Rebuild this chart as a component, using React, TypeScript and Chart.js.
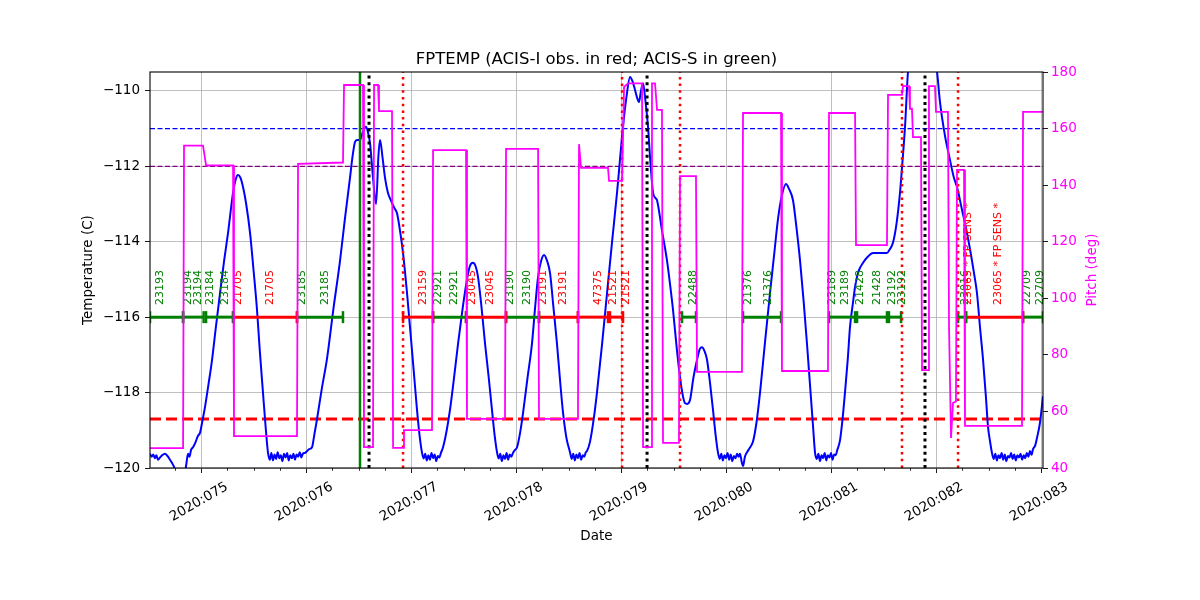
import { useEffect, useRef } from "react";
import { Chart, registerables } from "chart.js";

Chart.register(...registerables);

// ---------------- data ----------------
const X_MIN = 74.514;
const X_MAX = 83.019;
const xTickValues = [75, 76, 77, 78, 79, 80, 81, 82, 83];
const xTickLabels = ["2020:075", "2020:076", "2020:077", "2020:078", "2020:079", "2020:080", "2020:081", "2020:082", "2020:083"];
const xMinorStep = 0.25;
const tempTicks = [-120, -118, -116, -114, -112, -110];
const pitchTicks = [40, 60, 80, 100, 120, 140, 160, 180];
const TEMP_MIN = -120;
const TEMP_MAX = -109.5;
const PITCH_MIN = 40;
const PITCH_MAX = 180;

const tempDays = [
  74.514, 74.53, 74.545, 74.56, 74.575, 74.59, 74.61, 74.63, 74.657, 74.68, 74.7, 74.72, 74.74, 74.76, 74.8, 74.84, 74.86,
  74.876, 74.89, 74.905, 74.924, 74.95, 74.97, 74.99, 75.01, 75.038, 75.07, 75.105, 75.14, 75.181, 75.22, 75.257, 75.305,
  75.33, 75.352, 75.375, 75.4, 75.43, 75.467, 75.5, 75.533, 75.56, 75.59, 75.615, 75.638,
  75.655, 75.67, 75.685, 75.7, 75.715, 75.73, 75.745, 75.76, 75.775, 75.79, 75.805, 75.82, 75.835, 75.85, 75.865, 75.88,
  75.895, 75.91, 75.925, 75.94, 75.955, 75.97, 75.99, 76.01, 76.03, 76.057, 76.08, 76.105, 76.15, 76.2, 76.26, 76.324,
  76.37, 76.419, 76.445, 76.467, 76.49, 76.514, 76.54, 76.571, 76.59, 76.61, 76.638, 76.667, 76.69, 76.705, 76.73, 76.752,
  76.78, 76.8, 76.84, 76.867, 76.9, 76.924, 76.96, 76.99, 77.025, 77.057, 77.08, 77.105,
  77.12, 77.135, 77.15, 77.165, 77.18, 77.195, 77.21, 77.225, 77.24, 77.255, 77.27, 77.285, 77.305, 77.34, 77.371, 77.41,
  77.448, 77.49, 77.533, 77.56, 77.59, 77.615, 77.638, 77.67, 77.705, 77.74, 77.771, 77.795, 77.819,
  77.835, 77.85, 77.865, 77.88, 77.895, 77.91, 77.925, 77.94, 77.955, 77.971, 77.99, 78.01, 78.04, 78.067, 78.11, 78.152,
  78.18, 78.21, 78.24, 78.267, 78.295, 78.324, 78.355, 78.39, 78.42, 78.448, 78.48, 78.514,
  78.53, 78.545, 78.56, 78.575, 78.59, 78.605, 78.62, 78.635, 78.65, 78.665, 78.676, 78.705, 78.74, 78.771, 78.82, 78.867,
  78.915, 78.962, 79.019, 79.05, 79.086, 79.11, 79.133, 79.155, 79.171, 79.19, 79.21, 79.23, 79.257, 79.28, 79.305, 79.33,
  79.343, 79.39, 79.438, 79.47, 79.495, 79.53, 79.562, 79.59, 79.61, 79.63, 79.657, 79.69, 79.724, 79.75, 79.771, 79.795,
  79.819, 79.85, 79.876, 79.9, 79.924,
  79.94, 79.955, 79.97, 79.985, 80.0, 80.015, 80.03, 80.045, 80.06, 80.075, 80.09, 80.105, 80.12, 80.133, 80.15, 80.162,
  80.18, 80.2, 80.23, 80.257, 80.29, 80.324, 80.37, 80.419, 80.46, 80.495, 80.53, 80.571, 80.6, 80.638, 80.67, 80.705,
  80.74, 80.771, 80.8, 80.829, 80.848,
  80.865, 80.88, 80.895, 80.91, 80.925, 80.94, 80.955, 80.97, 80.985, 81.0, 81.015, 81.03, 81.045, 81.057, 81.086, 81.11,
  81.133, 81.16, 81.181, 81.21, 81.229, 81.26, 81.305, 81.35, 81.4, 81.47, 81.533, 81.56, 81.59, 81.625, 81.657, 81.68,
  81.705, 81.733, 81.78, 81.867, 81.96, 82.01, 82.038, 82.086, 82.133, 82.17, 82.2, 82.248, 82.29, 82.324, 82.36, 82.39,
  82.42, 82.448, 82.475, 82.495, 82.515, 82.533,
  82.55, 82.565, 82.58, 82.595, 82.61, 82.625, 82.64, 82.655, 82.67, 82.685, 82.7, 82.715, 82.73, 82.745, 82.76, 82.775,
  82.79, 82.805, 82.82, 82.835, 82.85, 82.865, 82.88, 82.895, 82.91, 82.924, 82.945, 82.962, 82.99, 83.019,
];
const tempValues = [
  -119.62, -119.7, -119.64, -119.74, -119.66, -119.78, -119.72, -119.66, -119.62, -119.68, -119.76, -119.85, -119.95, -120.1, -120.25, -120.2, -119.9,
  -119.62, -119.7, -119.52, -119.45, -119.3, -119.15, -119.07, -118.8, -118.38, -117.8, -117.13, -116.3, -115.36, -114.5, -113.77, -112.7,
  -112.35, -112.23, -112.3, -112.55, -113.0, -113.77, -114.75, -115.8, -116.9, -118.0, -118.9, -119.6,
  -119.78, -119.6, -119.8, -119.64, -119.76, -119.58, -119.74, -119.66, -119.82, -119.62, -119.72, -119.6, -119.8, -119.66, -119.74, -119.62,
  -119.78, -119.64, -119.7, -119.58, -119.72, -119.62, -119.6, -119.55, -119.5, -119.45, -119.1, -118.7, -117.9, -117.1, -115.8, -114.5,
  -113.4, -112.3, -111.7, -111.35, -111.3, -111.3, -111.1, -110.95, -111.1, -111.4, -112.3, -113.0, -111.7, -111.3, -111.8, -112.3,
  -112.7, -112.85, -113.1, -113.25, -113.8, -114.3, -115.3, -116.26, -117.4, -118.46, -119.1, -119.6,
  -119.75, -119.62, -119.8, -119.66, -119.78, -119.6, -119.74, -119.64, -119.82, -119.68, -119.72, -119.6, -119.45, -119.0, -118.46, -117.6,
  -116.7, -115.8, -115.0, -114.65, -114.56, -114.65, -114.93, -115.7, -116.7, -117.6, -118.46, -119.1, -119.58,
  -119.75, -119.62, -119.82, -119.66, -119.76, -119.6, -119.78, -119.64, -119.7, -119.6, -119.52, -119.45, -119.05, -118.54, -117.6, -116.7,
  -115.8, -114.93, -114.5, -114.35, -114.5, -114.83, -115.7, -116.7, -117.7, -118.54, -119.2, -119.58,
  -119.76, -119.62, -119.8, -119.64, -119.74, -119.6, -119.78, -119.66, -119.7, -119.58, -119.55, -119.3, -118.7, -118.0, -116.7, -115.36,
  -114.0, -112.7, -110.95, -110.2, -109.63, -109.75, -109.97, -110.2, -110.3, -110.0, -109.8, -110.2, -110.95, -111.9, -112.7, -112.85,
  -112.9, -113.7, -114.5, -115.2, -115.8, -116.8, -117.6, -118.1, -118.28, -118.3, -118.2, -117.6, -117.13, -116.85, -116.8, -116.9,
  -117.13, -117.8, -118.46, -119.1, -119.6,
  -119.76, -119.62, -119.8, -119.66, -119.74, -119.6, -119.78, -119.64, -119.82, -119.68, -119.74, -119.62, -119.7, -119.62, -119.85, -119.95,
  -119.7, -119.58, -119.45, -119.3, -118.8, -118.0, -116.7, -115.36, -114.3, -113.4, -112.8, -112.47, -112.6, -112.9, -113.6, -114.5,
  -115.6, -116.7, -117.8, -118.9, -119.6,
  -119.76, -119.62, -119.82, -119.66, -119.74, -119.6, -119.8, -119.66, -119.72, -119.6, -119.78, -119.64, -119.66, -119.55, -119.26, -118.7,
  -118.0, -117.1, -116.26, -115.6, -115.2, -114.8, -114.56, -114.4, -114.3, -114.3, -114.3, -114.2, -114.03, -113.5, -112.7, -111.9,
  -110.95, -109.5, -108.7, -108.5, -108.7, -109.5, -110.3, -111.2, -111.83, -112.3, -112.55, -113.16, -113.7, -114.2, -114.8, -115.36,
  -116.3, -117.13, -118.1, -118.9, -119.3, -119.6,
  -119.76, -119.62, -119.8, -119.66, -119.74, -119.6, -119.78, -119.64, -119.82, -119.68, -119.72, -119.6, -119.76, -119.64, -119.8, -119.66,
  -119.72, -119.62, -119.78, -119.66, -119.74, -119.6, -119.7, -119.55, -119.65, -119.5, -119.4, -119.2, -118.8, -118.1,
];

const pitchDays = [
  74.514, 74.829, 74.838, 75.019, 75.048, 75.305, 75.314, 75.914, 75.924, 76.352, 76.362, 76.543, 76.552, 76.638, 76.648,
  76.686, 76.695, 76.819, 76.829, 76.924, 76.933, 77.2, 77.21, 77.524, 77.533, 77.895, 77.905, 78.21, 78.219, 78.59,
  78.6, 78.619, 78.876, 78.886, 79.01, 79.029, 79.067, 79.2, 79.21, 79.286, 79.295, 79.324, 79.343, 79.39, 79.4,
  79.552, 79.562, 79.714, 79.724, 80.152, 80.162, 80.524, 80.533, 80.971, 80.981, 81.229, 81.238, 81.533, 81.543, 81.676,
  81.686, 81.743, 81.752, 81.771, 81.781, 81.857, 81.867, 81.924, 81.933, 81.99, 82.0, 82.114, 82.124, 82.143, 82.162,
  82.19, 82.2, 82.267, 82.276, 82.819, 82.829, 83.019,
];
const pitchValues = [
  47, 47, 154, 154, 147, 147, 51.3, 51.3, 147.5, 148, 175.4, 175.4, 47.4, 47.4, 175.4,
  175.4, 166.2, 166.2, 47.1, 47.1, 53.4, 53.4, 152.4, 152.4, 57.4, 57.4, 152.8, 152.8, 57.4, 57.4,
  154.5, 146.1, 146.1, 141.5, 141.5, 174.7, 176, 176, 47.4, 47.4, 176, 176, 166.6, 166.6, 48.9,
  48.9, 143.2, 143.2, 74, 74, 165.5, 165.5, 74.3, 74.3, 165.5, 165.5, 118.8, 118.8, 171.9, 171.9,
  175, 175, 167, 167, 157, 157, 74.6, 74.6, 175, 175, 165.9, 165.9, 90, 50.6, 63,
  63.5, 145.4, 145.4, 54.9, 54.9, 165.9, 165.9,
];

const limitYellow = -111.0;
const limitPlanning = -112.0;
const limitAcisI = -118.7;

const obsLevel = -116;
const obsStarts = [74.514, 74.829, 75.048, 75.305, 75.914, 76.924, 77.21, 77.524, 77.905, 78.219, 78.59, 78.895, 79.581, 80.162, 80.981, 81.248, 81.552, 82.21, 82.286, 82.829];
const obsEnds = [74.829, 75.025, 75.305, 75.914, 76.352, 77.21, 77.524, 77.905, 78.219, 78.59, 78.876, 79.019, 79.714, 80.524, 81.229, 81.533, 81.667, 82.286, 82.829, 83.019];
const obsKinds = ["S", "S", "S", "I", "S", "I", "S", "I", "S", "I", "I", "I", "S", "S", "S", "S", "S", "S", "I", "S"];

const labelDays = [
  74.61, 74.876, 74.971, 75.086, 75.229, 75.352, 75.657, 75.962, 76.181, 77.114, 77.257, 77.41, 77.581, 77.752, 77.943,
  78.105, 78.257, 78.448, 78.781, 78.924, 79.048, 79.686, 80.21, 80.4, 81.01, 81.133, 81.276, 81.438, 81.581, 81.676,
  82.276, 82.305, 82.59, 82.867, 82.99,
];
const labelTexts = [
  "23193", "23194", "23194", "23184", "23184", "21705", "21705", "23185", "23185", "23159", "22921", "22921", "23045", "23045", "23190",
  "23190", "23191", "23191", "47375", "21521", "21521", "22488", "21376", "21376", "23189", "23189", "21428", "21428", "23192", "23192",
  "23016", "23065 * FP SENS *", "23065 * FP SENS *", "22709", "22709",
];
const labelKinds = [
  "S", "S", "S", "S", "S", "I", "I", "S", "S", "I", "S", "S", "I", "I", "S",
  "S", "I", "I", "I", "I", "I", "S", "S", "S", "S", "S", "S", "S", "S", "S",
  "S", "I", "I", "S", "S",
];
const labelBaseTemp = -115.68;

const greenLineDays = [76.514];
const blackLineDays = [76.6, 79.248, 81.895];
const redLineDays = [76.924, 79.01, 79.562, 81.676, 82.21];

// ---------------- styles ----------------
const FONT = "'DejaVu Sans', 'Liberation Sans', sans-serif";
const RED = "#ff0000";
const GREEN = "#008000";
const MAGENTA = "#ff00ff";
const BLUE = "#0000ff";
const kindColor = (k: string) => (k === "I" ? RED : GREEN);
const minus = (v: number) => (v < 0 ? "\u2212" + Math.abs(v) : String(v));

export default function App() {
  const ref = useRef<HTMLCanvasElement | null>(null);

  useEffect(() => {
    document.body.style.margin = "0";
    const canvas = ref.current;
    if (!canvas) return;

    const datasets: any[] = [];

    // pitch (top-most)
    datasets.push({
      label: "pitch",
      data: pitchDays.map((d, i) => ({ x: d, y: pitchValues[i] })),
      yAxisID: "y2",
      borderColor: MAGENTA,
      borderWidth: 1.8,
      pointRadius: 0,
      tension: 0,
      clip: 0,
      order: 0,
    });
    const PITCH_INDEX = 0;

    datasets.push({
      label: "temp",
      data: tempDays.map((d, i) => ({ x: d, y: tempValues[i] })),
      yAxisID: "y",
      borderColor: BLUE,
      borderWidth: 2,
      pointRadius: 0,
      cubicInterpolationMode: "monotone",
      clip: 0,
      order: 2,
    });

    const hline = (v: number, color: string, width: number, dash: number[], order: number) => ({
      data: [
        { x: X_MIN, y: v },
        { x: X_MAX, y: v },
      ],
      yAxisID: "y",
      borderColor: color,
      borderWidth: width,
      borderDash: dash,
      borderCapStyle: "butt",
      pointRadius: 0,
      clip: 0,
      order,
    });
    datasets.push(hline(limitYellow, BLUE, 1.2, [5, 2.5], 3));
    datasets.push(hline(limitPlanning, "#800080", 1.2, [5, 2.5], 3));
    datasets.push(hline(limitAcisI, RED, 3, [11, 5], 3));

    const vline = (d: number, color: string, width: number, dash: number[]) => ({
      data: [
        { x: d, y: TEMP_MIN },
        { x: d, y: TEMP_MAX },
      ],
      yAxisID: "y",
      borderColor: color,
      borderWidth: width,
      borderDash: dash,
      borderCapStyle: "butt",
      pointRadius: 0,
      clip: 0,
      order: 1,
    });
    greenLineDays.forEach((d) => datasets.push(vline(d, GREEN, 2.5, [])));
    blackLineDays.forEach((d) => datasets.push(vline(d, "#000000", 3, [3, 3.6])));
    redLineDays.forEach((d) => datasets.push(vline(d, RED, 2.5, [2.5, 4.2])));

    obsStarts.forEach((s, i) => {
      const c = kindColor(obsKinds[i]);
      datasets.push({
        data: [
          { x: s, y: obsLevel },
          { x: obsEnds[i], y: obsLevel },
        ],
        yAxisID: "y",
        borderColor: c,
        borderWidth: 3,
        pointStyle: "line",
        pointRotation: 90,
        pointRadius: 6,
        pointBorderWidth: 2.5,
        pointBorderColor: c,
        pointBackgroundColor: c,
        clip: 0,
        order: 1,
      });
    });

    const drawLabels = (chart: any) => {
      const ctx = chart.ctx;
      const xs = chart.scales.x;
      const ys = chart.scales.y;
      ctx.save();
      ctx.font = `11px ${FONT}`;
      ctx.textAlign = "left";
      ctx.textBaseline = "middle";
      labelDays.forEach((d, i) => {
        const px = xs.getPixelForValue(d);
        const py = ys.getPixelForValue(labelBaseTemp);
        ctx.save();
        ctx.translate(px, py);
        ctx.rotate(-Math.PI / 2);
        ctx.fillStyle = kindColor(labelKinds[i]);
        ctx.fillText(labelTexts[i], 0, 0);
        ctx.restore();
      });
      ctx.restore();
    };

    const decor = {
      id: "decor",
      beforeDatasetDraw(chart: any, args: any) {
        if (args.index === PITCH_INDEX) drawLabels(chart);
      },
      afterDraw(chart: any) {
        const ctx = chart.ctx;
        const a = chart.chartArea;
        const xs = chart.scales.x;
        ctx.save();
        // frame
        ctx.strokeStyle = "#000";
        ctx.lineWidth = 1.1;
        ctx.strokeRect(a.left, a.top, a.right - a.left, a.bottom - a.top);
        // minor ticks
        ctx.lineWidth = 0.8;
        ctx.beginPath();
        for (let v = Math.ceil(X_MIN / xMinorStep) * xMinorStep; v <= X_MAX; v += xMinorStep) {
          if (Math.abs(v - Math.round(v)) < 1e-6) continue;
          const px = Math.round(xs.getPixelForValue(v)) + 0.5;
          ctx.moveTo(px, a.bottom);
          ctx.lineTo(px, a.bottom + 2.8);
        }
        ctx.stroke();
        // x tick labels
        ctx.fillStyle = "#000";
        ctx.font = `13.5px ${FONT}`;
        ctx.textAlign = "center";
        ctx.textBaseline = "middle";
        xTickValues.forEach((v, i) => {
          const px = xs.getPixelForValue(v);
          ctx.save();
          ctx.translate(px - 2, a.bottom + 34);
          ctx.rotate((-30 * Math.PI) / 180);
          ctx.fillText(xTickLabels[i], 0, 0);
          ctx.restore();
        });
        // title
        ctx.font = `16.5px ${FONT}`;
        ctx.textBaseline = "alphabetic";
        ctx.fillText("FPTEMP (ACIS-I obs. in red; ACIS-S in green)", (a.left + a.right) / 2, a.top - 8);
        // axis titles
        ctx.font = `13.5px ${FONT}`;
        ctx.textBaseline = "middle";
        ctx.fillText("Date", (a.left + a.right) / 2, 536);
        ctx.save();
        ctx.translate(88, (a.top + a.bottom) / 2);
        ctx.rotate(-Math.PI / 2);
        ctx.fillText("Temperature (C)", 0, 0);
        ctx.restore();
        ctx.save();
        ctx.translate(1092, (a.top + a.bottom) / 2);
        ctx.rotate(-Math.PI / 2);
        ctx.fillStyle = MAGENTA;
        ctx.fillText("Pitch (deg)", 0, 0);
        ctx.restore();
        ctx.restore();
      },
    };

    const chart = new Chart(canvas, {
      type: "line",
      data: { datasets },
      options: {
        animation: false,
        responsive: false,
        maintainAspectRatio: false,
        layout: { padding: { top: 72, left: 0, right: 0, bottom: 0 } },
        plugins: { legend: { display: false }, title: { display: false }, tooltip: { enabled: false } },
        scales: {
          x: {
            type: "linear",
            min: X_MIN,
            max: X_MAX,
            afterBuildTicks: (s: any) => {
              s.ticks = xTickValues.map((v) => ({ value: v }));
            },
            afterFit: (s: any) => {
              s.height = 132;
            },
            ticks: { display: false },
            grid: { color: "#b0b0b0", lineWidth: 0.8, tickColor: "#000", tickLength: 5, tickWidth: 0.9 },
            border: { display: false },
          },
          y: {
            type: "linear",
            position: "left",
            min: TEMP_MIN,
            max: TEMP_MAX,
            afterBuildTicks: (s: any) => {
              s.ticks = tempTicks.map((v) => ({ value: v }));
            },
            afterFit: (s: any) => {
              s.width = 150;
            },
            ticks: { color: "#000", padding: 5, font: { family: FONT, size: 13.5 }, callback: (v: any) => minus(Number(v)) },
            grid: { color: "#b0b0b0", lineWidth: 0.8, tickColor: "#000", tickLength: 5, tickWidth: 0.9 },
            border: { display: false },
          },
          y2: {
            type: "linear",
            position: "right",
            min: PITCH_MIN,
            max: PITCH_MAX,
            afterBuildTicks: (s: any) => {
              s.ticks = pitchTicks.map((v) => ({ value: v }));
            },
            afterFit: (s: any) => {
              s.width = 157;
            },
            ticks: { color: MAGENTA, padding: 3, font: { family: FONT, size: 13.5 } },
            grid: { drawOnChartArea: false, tickColor: "#000", tickLength: 5, tickWidth: 0.9 },
            border: { display: false },
          },
        },
      },
      plugins: [decor],
    });

    return () => chart.destroy();
  }, []);

  return (
    <div style={{ width: 1200, height: 600, background: "#fff" }}>
      <canvas ref={ref} width={1200} height={600} style={{ width: 1200, height: 600, display: "block" }} />
    </div>
  );
}
